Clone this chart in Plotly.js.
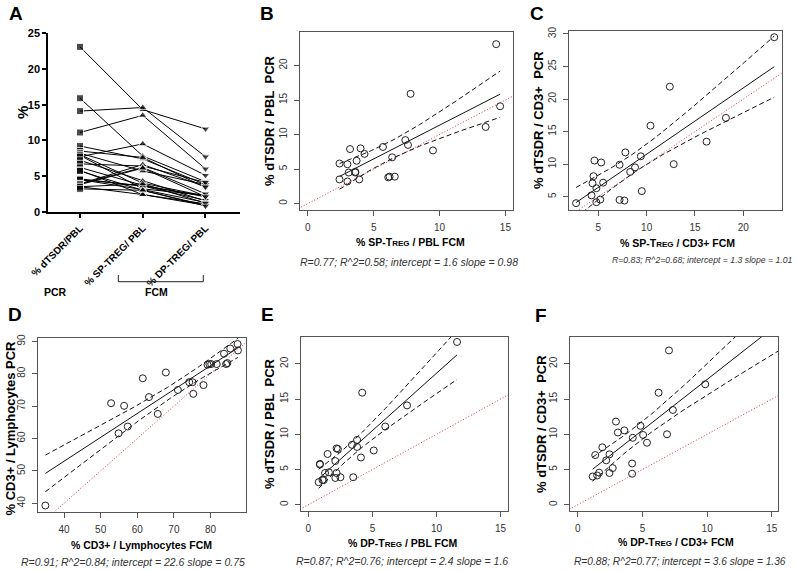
<!DOCTYPE html>
<html>
<head>
<meta charset="utf-8">
<script src="https://cdn.plot.ly/plotly-3.0.1.min.js"></script>
<style>
  body { margin: 0; background: #fff; }
  #chart { width: 797px; height: 571px; }
</style>
</head>
<body>
<div id="chart"></div>
<script>
// one value per subject, % of PBL (panels A, B, E)
var dtsdrPbl  = [23.1, 15.9, 14.1, 11.1, 9.2, 8.5, 8.2, 8.0, 7.9, 7.7, 7.2, 6.7, 6.2, 5.8, 5.7, 4.6, 4.5, 4.5, 3.9, 3.9, 3.8, 3.5, 3.5, 3.2];
var spTregPbl = [14.3, 7.8, 14.6, 13.5, 7.4, 7.6, 5.7, 4.0, 3.2, 9.5, 4.3, 6.4, 3.7, 2.4, 3.0, 3.6, 3.1, 3.6, 6.6, 6.2, 6.1, 2.4, 3.9, 3.0];
var dpTregPbl = [11.6, 4.2, 7.7, 6.0, 3.8, 3.4, 3.8, 2.2, 2.3, 5.1, 1.5, 4.1, 2.1, 0.9, 0.9, 1.6, 1.3, 2.2, 3.5, 2.5, 2.1, 1.1, 1.2, 0.8];

// one value per subject, % of CD3+ (panels C, F)
var dtsdrCd3  = [29.5, 21.9, 17.1, 15.9, 13.45, 11.8, 11.2, 10.55, 10.25, 10.0, 9.9, 9.5, 8.8, 8.15, 7.15, 7.05, 6.3, 5.85, 5.2, 4.55, 4.5, 4.4, 4.15, 4.0];
var spTregCd3 = [23.2, 12.4, 18.2, 10.4, 16.2, 7.8, 9.4, 4.6, 5.3, 12.8, 7.2, 8.8, 8.3, 4.5, 5.5, 4.4, 4.8, 9.5, 4.3, 5.2, 7.2, 7.7, 4.8, 2.7];
var dpTregCd3 = [18.8, 7.05, 9.85, 6.25, 7.35, 2.95, 4.85, 3.6, 3.1, 6.9, 5.05, 4.25, 5.35, 1.9, 2.45, 1.35, 2.2, 4.2, 2.7, 1.65, 2.45, 4.2, 1.5, 1.15];

// CD3+ / lymphocytes (panel D)
var cd3Fcm = [34.9, 52.85, 56.4, 61.5, 67.8, 63.2, 54.9, 57.4, 65.6, 71.1, 74.2, 75.1, 75.3, 78.1, 79.2, 79.7, 80.2, 81.7, 84.3, 84.6, 83.7, 85.4, 87.4, 87.5];
var cd3Pcr = [39.3, 70.9, 70.1, 78.6, 80.4, 72.8, 61.6, 63.7, 67.6, 75.0, 77.4, 77.4, 73.8, 76.5, 82.8, 83.0, 83.0, 83.0, 83.0, 83.3, 86.2, 87.8, 89.2, 87.2];

var groupLabels = ['% dTSDR/PBL', '% SP-TREG/ PBL', '% DP-TREG/ PBL'];
var groupSymbols = ['square', 'triangle-up', 'triangle-down'];

var statsText = {
    B: 'R=0.77; R^2=0.58; intercept = 1.6 slope = 0.98',
    C: 'R=0.83; R^2=0.68; intercept = 1.3 slope = 1.01',
    D: 'R=0.91; R^2=0.84; intercept = 22.6 slope = 0.75',
    E: 'R=0.87; R^2=0.76; intercept = 2.4 slope = 1.6',
    F: 'R=0.88; R^2=0.77; intercept = 3.6 slope = 1.36'
};

var FONT = 'Liberation Sans, Arial, Helvetica, sans-serif';
var W = 797, H = 571;
var T_CRIT = 2.074; // t(0.975, df = 22)

function px(x) { return x / W; }
function py(y) { return 1 - y / H; }

// least squares fit plus 95% confidence band of the mean
function fitBand(xs, ys) {
    var n = xs.length;
    var xbar = xs.reduce(function(a, b) { return a + b; }, 0) / n;
    var ybar = ys.reduce(function(a, b) { return a + b; }, 0) / n;
    var sxx = 0, sxy = 0;
    for (var i = 0; i < n; i++) {
        sxx += (xs[i] - xbar) * (xs[i] - xbar);
        sxy += (xs[i] - xbar) * (ys[i] - ybar);
    }
    var slope = sxy / sxx;
    var icpt = ybar - slope * xbar;
    var sse = 0;
    for (var j = 0; j < n; j++) {
        var r = ys[j] - icpt - slope * xs[j];
        sse += r * r;
    }
    var s = Math.sqrt(sse / (n - 2));
    var lo = Math.min.apply(Math, xs), hi = Math.max.apply(Math, xs);
    var out = {x: [], fit: [], up: [], dn: []};
    for (var k = 0; k <= 60; k++) {
        var x = lo + (hi - lo) * k / 60;
        var yh = icpt + slope * x;
        var half = T_CRIT * s * Math.sqrt(1 / n + (x - xbar) * (x - xbar) / sxx);
        out.x.push(x); out.fit.push(yh); out.up.push(yh + half); out.dn.push(yh - half);
    }
    return out;
}

function scatterPanel(xs, ys, xa, ya, xRange, yRange) {
    var band = fitBand(xs, ys);
    var lo = Math.min(xRange[0], yRange[0]);
    var hi = Math.max(xRange[1], yRange[1]);
    var common = {xaxis: xa, yaxis: ya, hoverinfo: 'skip', showlegend: false};
    return [
        Object.assign({x: [lo, hi], y: [lo, hi], mode: 'lines',
            line: {color: '#d9303f', width: 1, dash: '1px,2px'}}, common),
        Object.assign({x: band.x, y: band.up, mode: 'lines',
            line: {color: '#111', width: 1, dash: '5px,3px'}}, common),
        Object.assign({x: band.x, y: band.dn, mode: 'lines',
            line: {color: '#111', width: 1, dash: '5px,3px'}}, common),
        Object.assign({x: band.x, y: band.fit, mode: 'lines',
            line: {color: '#111', width: 1}}, common),
        Object.assign({x: xs, y: ys, mode: 'markers',
            marker: {symbol: 'circle-open', size: 7, color: '#222', line: {width: 1, color: '#222'}}}, common)
    ];
}

function boxAxis(domain, range, anchor, isY) {
    return {
        domain: domain, range: range, anchor: anchor,
        dtick: isY || range[1] - range[0] < 30 ? 5 : 10, tick0: 0,
        showline: true, mirror: true, linecolor: '#555', linewidth: 1,
        ticks: 'outside', ticklen: 5, tickwidth: 1, tickcolor: '#555',
        showgrid: false, zeroline: false,
        tickangle: isY ? -90 : 0,
        ticklabelstandoff: 3,
        tickfont: {family: FONT, size: 10, color: '#333'}
    };
}

var rangeB = {x: [-0.6, 15.6], y: [-0.93, 24.9]};
var rangeC = {x: [2.0, 23.97], y: [2.95, 30.5]};
var rangeD = {x: [32.8, 89.7], y: [37.3, 91.05]};
var rangeE = {x: [-0.6, 15.6], y: [-0.85, 23.85]};
var rangeF = {x: [-0.6, 15.5], y: [-0.85, 23.85]};

// panel A: one line per subject across the three measures
var traces = dtsdrPbl.map(function(v, i) {
    return {
        x: [0, 1, 2], y: [v, spTregPbl[i], dpTregPbl[i]],
        xaxis: 'x', yaxis: 'y', mode: 'lines+markers',
        line: {color: '#000', width: 1},
        marker: {symbol: groupSymbols, size: [7, 7.5, 7.5], color: '#000'},
        cliponaxis: false, showlegend: false, hoverinfo: 'skip'
    };
});

traces = traces
    .concat(scatterPanel(spTregPbl, dtsdrPbl, 'x2', 'y2', rangeB.x, rangeB.y))
    .concat(scatterPanel(spTregCd3, dtsdrCd3, 'x3', 'y3', rangeC.x, rangeC.y))
    .concat(scatterPanel(cd3Fcm, cd3Pcr, 'x4', 'y4', rangeD.x, rangeD.y))
    .concat(scatterPanel(dpTregPbl, dtsdrPbl, 'x5', 'y5', rangeE.x, rangeE.y))
    .concat(scatterPanel(dpTregCd3, dtsdrCd3, 'x6', 'y6', rangeF.x, rangeF.y));

var domB = {x: [px(300), px(513.3)], y: [py(210), py(31.7)]};
var domC = {x: [px(569.3), px(781.7)], y: [py(210), py(30.7)]};
var domD = {x: [px(37.7), px(246)], y: [py(512), py(338)]};
var domE = {x: [px(300.7), px(508.3)], y: [py(510.7), py(336.7)]};
var domF = {x: [px(570), px(778.3)], y: [py(510.7), py(336.7)]};

function note(text, x, y, size, extra) {
    return Object.assign({
        text: text, xref: 'paper', yref: 'paper', x: px(x), y: py(y),
        xanchor: 'center', yanchor: 'middle', showarrow: false,
        font: {family: FONT, size: size, color: '#000'}
    }, extra || {});
}

function small(t) { return '<span style="font-size:8px">' + t + '</span>'; }

function stats(t, x, y, size) {
    return note('<i>' + t + '</i>', x, y, size, {font: {family: FONT, size: size, color: '#333'}});
}

var annotations = [
    note('<b>A</b>', 15.5, 13.5, 19),
    note('<b>B</b>', 267, 13.5, 19),
    note('<b>C</b>', 537, 13.5, 19),
    note('<b>D</b>', 14.5, 314.5, 19),
    note('<b>E</b>', 267, 314.5, 19),
    note('<b>F</b>', 541, 315, 19),

    note('<b>%</b>', 23, 113, 15, {textangle: -90}),
    note('<b>PCR</b>', 55, 291.7, 10.5),
    note('<b>FCM</b>', 156.7, 291.7, 10.5),

    note('<b>% SP-T' + small('REG') + ' / PBL FCM</b>', 410, 242.3, 10.5),
    note('<b>% dTSDR / PBL\u00a0 PCR</b>', 269, 121, 13, {textangle: -90}),
    note('<b>% SP-T' + small('REG') + ' / CD3+ FCM</b>', 677, 242.7, 10.5),
    note('<b>% dTSDR / CD3+\u00a0 PCR</b>', 539, 120, 13, {textangle: -90}),
    note('<b>% CD3+ / Lymphocytes FCM</b>', 141, 545, 10.5),
    note('<b>% CD3+ / Lymphocytes PCR</b>', 9.5, 428, 13, {textangle: -90}),
    note('<b>% DP-T' + small('REG') + ' / PBL FCM</b>', 403, 543.3, 10.5),
    note('<b>% dTSDR / PBL\u00a0 PCR</b>', 270, 424, 13, {textangle: -90}),
    note('<b>% DP-T' + small('REG') + ' / CD3+ FCM</b>', 676, 541.7, 10.5),
    note('<b>% dTSDR / CD3+\u00a0 PCR</b>', 542, 424, 13, {textangle: -90}),

    stats(statsText.B, 408.8, 262, 10.5),
    stats(statsText.C, 702.5, 259.5, 8.7),
    stats(statsText.D, 132.5, 561.7, 10.5),
    stats(statsText.E, 401.7, 560.7, 10.5),
    stats(statsText.F, 680, 561, 10.2)
];

// bracket under the two FCM groups
function seg(x0, y0, x1, y1) {
    return {type: 'line', xref: 'paper', yref: 'paper',
        x0: px(x0), y0: py(y0), x1: px(x1), y1: py(y1),
        line: {color: '#222', width: 1}};
}
var shapes = [
    seg(118.3, 281.7, 203.3, 281.7),
    seg(118.3, 275, 118.3, 281.7),
    seg(203.3, 275, 203.3, 281.7)
];

var layout = {
    width: W, height: H,
    margin: {l: 0, r: 0, t: 0, b: 0},
    paper_bgcolor: '#fff', plot_bgcolor: '#fff',
    showlegend: false,
    font: {family: FONT},
    xaxis: {
        domain: [px(48), px(240)], range: [-0.51, 2.55], anchor: 'y',
        tickvals: [0, 1, 2], ticktext: groupLabels, tickangle: -45,
        ticks: 'outside', ticklen: 5, tickwidth: 1.5, tickcolor: '#000',
        showline: true, linecolor: '#000', linewidth: 1.5,
        showgrid: false, zeroline: false,
        tickfont: {family: FONT, size: 10, color: '#000', weight: 'bold'}
    },
    yaxis: {
        domain: [py(211.7), py(33.3)], range: [0, 25], dtick: 5, anchor: 'x',
        ticks: 'outside', ticklen: 4, tickwidth: 1.5, tickcolor: '#000',
        showline: true, linecolor: '#000', linewidth: 1.5,
        showgrid: false, zeroline: false,
        tickfont: {family: FONT, size: 11, color: '#000', weight: 'bold'}
    },
    xaxis2: boxAxis(domB.x, rangeB.x, 'y2', false),
    yaxis2: boxAxis(domB.y, rangeB.y, 'x2', true),
    xaxis3: boxAxis(domC.x, rangeC.x, 'y3', false),
    yaxis3: boxAxis(domC.y, rangeC.y, 'x3', true),
    xaxis4: boxAxis(domD.x, rangeD.x, 'y4', false),
    yaxis4: Object.assign(boxAxis(domD.y, rangeD.y, 'x4', true), {dtick: 10}),
    xaxis5: boxAxis(domE.x, rangeE.x, 'y5', false),
    yaxis5: boxAxis(domE.y, rangeE.y, 'x5', true),
    xaxis6: boxAxis(domF.x, rangeF.x, 'y6', false),
    yaxis6: boxAxis(domF.y, rangeF.y, 'x6', true),
    annotations: annotations,
    shapes: shapes
};

Plotly.newPlot('chart', traces, layout, {displayModeBar: false});
</script>
</body>
</html>
